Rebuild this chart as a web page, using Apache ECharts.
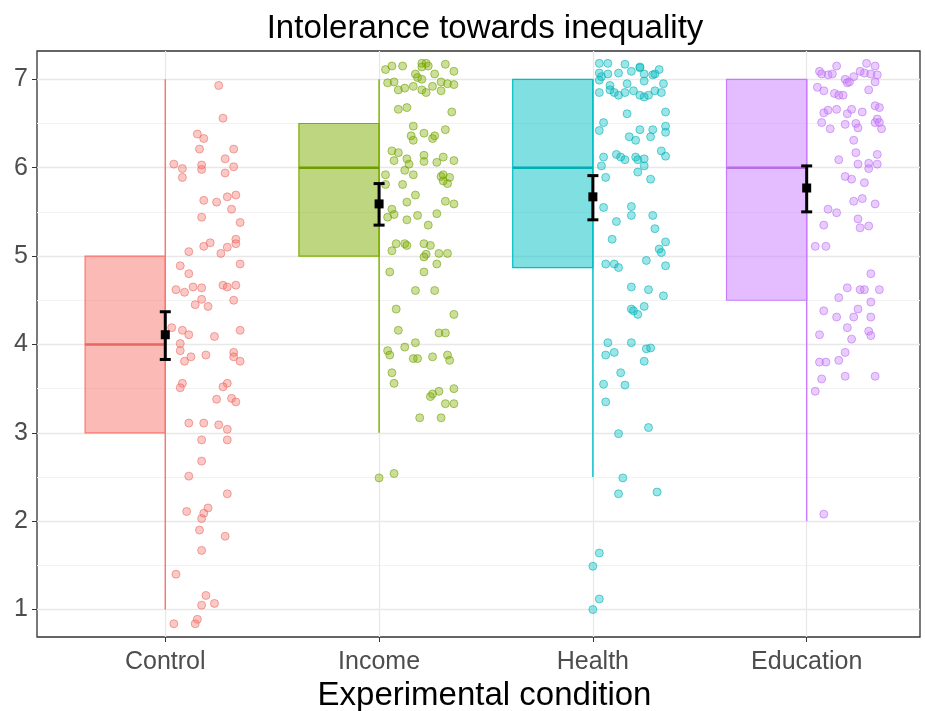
<!DOCTYPE html>
<html>
<head>
<meta charset="utf-8">
<title>Intolerance towards inequality</title>
<script src="https://cdn.jsdelivr.net/npm/echarts@6/dist/echarts.min.js"></script>
<style>
    html, body { margin: 0; padding: 0; background: #fff; }
    #chart { width: 925px; height: 711px; }
</style>
</head>
<body>
<div id="chart"></div>
<script>
// groups and summary stats
const categories = ["Control", "Income", "Health", "Education"];
const whiskerMin = [1, 3, 2.5, 2];
const q1 = [3, 5, 4.87, 4.5];
const median = [4, 6, 6, 6];
const q3 = [5, 6.5, 7, 7];
const whiskerMax = [7, 7, 7, 7];
const means = [4.11, 5.59, 5.67, 5.77];
const ciLow = [3.83, 5.35, 5.41, 5.50];
const ciHigh = [4.37, 5.82, 5.91, 6.02];

const yTicks = [1, 2, 3, 4, 5, 6, 7];
const yMinor = [1.5, 2.5, 3.5, 4.5, 5.5, 6.5];

// jittered raw responses: [offset from group centre, value]
const controlPts = [
    [0.25,6.93],[0.27,6.56],[0.15,6.38],[0.18,6.33],[0.16,6.21],[0.32,6.21],[0.04,6.04],[0.08,5.99],[0.17,6.03],[0.17,5.98],
    [0.28,6.10],[0.32,6.01],[0.28,5.94],[0.08,5.89],[0.18,5.63],[0.24,5.61],[0.29,5.67],[0.33,5.69],[0.31,5.53],[0.17,5.44],
    [0.35,5.38],[0.11,5.05],[0.18,5.11],[0.21,5.15],[0.26,5.03],[0.29,5.10],[0.33,5.19],[0.33,5.14],[0.07,4.89],[0.35,4.91],
    [0.11,4.80],[0.05,4.62],[0.09,4.59],[0.13,4.65],[0.17,4.64],[0.27,4.67],[0.29,4.65],[0.33,4.67],[0.17,4.51],[0.14,4.45],
    [0.20,4.43],[0.32,4.50],[0.03,4.19],[0.08,4.16],[0.11,4.11],[0.23,4.09],[0.35,4.16],[0.07,4.01],[0.07,3.93],[0.09,3.81],
    [0.12,3.86],[0.19,3.88],[0.32,3.91],[0.32,3.86],[0.35,3.81],[0.08,3.56],[0.07,3.51],[0.29,3.56],[0.27,3.52],[0.24,3.38],
    [0.31,3.39],[0.33,3.35],[0.11,3.11],[0.18,3.11],[0.25,3.09],[0.29,3.04],[0.17,2.92],[0.29,2.92],[0.17,2.68],[0.11,2.51],
    [0.29,2.31],[0.10,2.11],[0.20,2.15],[0.18,2.09],[0.17,2.03],[0.16,1.90],[0.28,1.83],[0.17,1.67],[0.05,1.40],[0.19,1.16],
    [0.17,1.05],[0.23,1.07],[0.04,0.84],[0.14,0.84],[0.15,0.89]
];
const incomePts = [
    [0.03,7.11],[0.06,7.15],[0.11,7.15],[0.20,7.18],[0.22,7.18],[0.23,7.15],[0.20,7.14],[0.26,7.06],[0.31,7.17],[0.35,7.09],
    [0.17,7.06],[0.18,7.02],[0.20,7.00],[0.04,6.96],[0.07,6.97],[0.09,6.88],[0.12,6.90],[0.16,6.92],[0.20,6.88],[0.22,6.85],
    [0.25,6.92],[0.29,6.87],[0.29,6.97],[0.32,6.95],[0.35,6.94],[0.09,6.66],[0.13,6.68],[0.34,6.63],[0.16,6.47],[0.31,6.43],
    [0.15,6.36],[0.16,6.31],[0.21,6.39],[0.25,6.33],[0.26,6.36],[0.06,6.19],[0.09,6.17],[0.07,6.08],[0.13,6.10],[0.14,6.04],
    [0.12,5.97],[0.16,5.92],[0.21,6.14],[0.21,6.07],[0.27,6.06],[0.30,6.12],[0.35,6.08],[0.29,5.90],[0.30,5.92],[0.33,5.89],
    [0.32,5.82],[0.30,5.85],[0.03,5.92],[0.03,5.81],[0.11,5.81],[0.17,5.69],[0.13,5.61],[0.31,5.62],[0.35,5.59],[0.04,5.44],
    [0.06,5.53],[0.07,5.47],[0.13,5.41],[0.18,5.46],[0.23,5.35],[0.27,5.48],[0.08,5.14],[0.06,5.06],[0.12,5.14],[0.13,5.12],
    [0.21,5.14],[0.24,5.12],[0.22,5.02],[0.21,4.99],[0.28,5.03],[0.32,5.03],[0.27,4.91],[0.05,4.82],[0.21,4.82],[0.17,4.61],
    [0.26,4.61],[0.08,4.40],[0.35,4.34],[0.09,4.16],[0.28,4.13],[0.31,4.13],[0.17,4.02],[0.12,3.97],[0.04,3.93],[0.05,3.88],
    [0.16,3.84],[0.18,3.84],[0.25,3.86],[0.32,3.88],[0.33,3.82],[0.06,3.68],[0.07,3.56],[0.35,3.50],[0.28,3.47],[0.25,3.44],
    [0.24,3.41],[0.31,3.33],[0.35,3.33],[0.19,3.17],[0.29,3.17],[0.00,2.49],[0.07,2.54]
];
const healthPts = [
    [0.03,7.18],[0.07,7.18],[0.15,7.17],[0.22,7.13],[0.22,7.14],[0.31,7.11],[0.03,7.07],[0.04,7.03],[0.07,7.06],[0.12,7.07],
    [0.18,7.09],[0.24,7.06],[0.28,7.05],[0.29,7.06],[0.03,6.99],[0.08,6.93],[0.16,6.95],[0.24,6.98],[0.33,6.95],[0.03,6.85],
    [0.08,6.88],[0.10,6.85],[0.12,6.82],[0.15,6.85],[0.19,6.87],[0.22,6.82],[0.24,6.80],[0.26,6.82],[0.29,6.87],[0.32,6.85],
    [0.16,6.61],[0.34,6.63],[0.05,6.51],[0.03,6.42],[0.22,6.43],[0.28,6.43],[0.27,6.35],[0.34,6.47],[0.34,6.40],[0.17,6.35],
    [0.20,6.31],[0.05,6.12],[0.11,6.15],[0.13,6.12],[0.15,6.09],[0.20,6.12],[0.21,6.09],[0.24,6.10],[0.32,6.19],[0.34,6.13],
    [0.04,6.02],[0.24,6.02],[0.21,5.95],[0.06,5.89],[0.27,5.87],[0.05,5.55],[0.18,5.56],[0.18,5.46],[0.28,5.46],[0.11,5.39],
    [0.29,5.31],[0.09,5.19],[0.34,5.16],[0.31,5.08],[0.32,5.04],[0.06,4.91],[0.10,4.91],[0.12,4.87],[0.25,4.95],[0.34,4.89],
    [0.18,4.65],[0.26,4.62],[0.33,4.55],[0.18,4.40],[0.19,4.38],[0.21,4.34],[0.24,4.43],[0.07,4.02],[0.18,4.02],[0.25,3.95],
    [0.27,3.96],[0.06,3.88],[0.10,3.91],[0.24,3.81],[0.13,3.68],[0.05,3.55],[0.15,3.54],[0.06,3.35],[0.26,3.06],[0.12,2.99],
    [0.14,2.49],[0.12,2.31],[0.30,2.33],[0.03,1.64],[0.00,1.49],[0.03,1.12],[0.00,1.00]
];
const educationPts = [
    [0.06,7.09],[0.07,7.06],[0.10,7.05],[0.12,7.06],[0.14,7.15],[0.18,7.00],[0.19,6.96],[0.20,6.97],[0.22,7.03],[0.28,7.18],
    [0.32,7.15],[0.25,7.09],[0.27,7.07],[0.30,7.06],[0.33,7.05],[0.32,6.97],[0.05,6.91],[0.08,6.87],[0.13,6.84],[0.15,6.82],
    [0.17,6.82],[0.29,6.88],[0.10,6.65],[0.14,6.66],[0.19,6.61],[0.21,6.66],[0.26,6.63],[0.32,6.70],[0.34,6.68],[0.08,6.62],
    [0.07,6.51],[0.11,6.44],[0.18,6.49],[0.23,6.50],[0.24,6.45],[0.32,6.51],[0.33,6.55],[0.34,6.51],[0.35,6.44],[0.22,6.31],
    [0.23,6.17],[0.33,6.15],[0.15,6.09],[0.24,6.04],[0.29,6.05],[0.33,6.04],[0.29,5.99],[0.18,5.90],[0.21,5.87],[0.27,5.83],
    [0.22,5.62],[0.26,5.65],[0.32,5.59],[0.10,5.53],[0.14,5.49],[0.08,5.35],[0.24,5.42],[0.25,5.32],[0.29,5.34],[0.04,5.11],
    [0.09,5.11],[0.30,4.80],[0.19,4.64],[0.25,4.62],[0.27,4.62],[0.34,4.62],[0.15,4.53],[0.30,4.48],[0.08,4.38],[0.14,4.31],
    [0.22,4.31],[0.24,4.40],[0.30,4.31],[0.06,4.11],[0.19,4.19],[0.21,4.06],[0.29,4.15],[0.30,4.10],[0.18,3.91],[0.06,3.80],
    [0.09,3.80],[0.15,3.82],[0.07,3.61],[0.18,3.64],[0.32,3.64],[0.04,3.47],[0.08,2.08]
];
const groupPts = [controlPts, incomePts, healthPts, educationPts];

// ggplot default hues
const colors = ["#F8766D", "#7CAE00", "#00BFC4", "#C77CFF"];
const medianColors = ["#e5675f", "#6f9c00", "#00aeb3", "#b56de8"];
const BOX_W = 0.375;
const FONT = "Liberation Sans, Arial, sans-serif";

function hexToRgba(hex, a) {
    const n = parseInt(hex.slice(1), 16);
    return "rgba(" + (n >> 16) + "," + ((n >> 8) & 255) + "," + (n & 255) + "," + a + ")";
}

function renderBox(params, api) {
    const i = params.dataIndex;
    const x = api.value(0);
    const topLeft = api.coord([x - BOX_W, api.value(4)]);
    const botRight = api.coord([x, api.value(2)]);
    const wTop = api.coord([x, api.value(5)]);
    const wBot = api.coord([x, api.value(1)]);
    const medL = api.coord([x - BOX_W, api.value(3)]);
    const medR = api.coord([x, api.value(3)]);
    return {
        type: "group",
        children: [
            {
                type: "rect",
                shape: {x: topLeft[0], y: topLeft[1], width: botRight[0] - topLeft[0], height: botRight[1] - topLeft[1]},
                style: {fill: hexToRgba(colors[i], 0.5), stroke: colors[i], lineWidth: 1.2}
            },
            {
                type: "line",
                shape: {x1: wTop[0], y1: wTop[1], x2: wBot[0], y2: wBot[1]},
                style: {stroke: colors[i], lineWidth: 1.4}
            },
            {
                type: "line",
                shape: {x1: medL[0], y1: medL[1], x2: medR[0], y2: medR[1]},
                style: {stroke: medianColors[i], lineWidth: 2.5}
            }
        ]
    };
}

function renderMean(params, api) {
    const x = api.value(0);
    const pm = api.coord([x, api.value(1)]);
    const pl = api.coord([x, api.value(2)]);
    const ph = api.coord([x, api.value(3)]);
    const cap = 5.5;
    const black = {stroke: "#000", lineWidth: 3};
    return {
        type: "group",
        children: [
            {type: "line", shape: {x1: pl[0], y1: pl[1], x2: ph[0], y2: ph[1]}, style: black},
            {type: "line", shape: {x1: pl[0] - cap, y1: pl[1], x2: pl[0] + cap, y2: pl[1]}, style: black},
            {type: "line", shape: {x1: ph[0] - cap, y1: ph[1], x2: ph[0] + cap, y2: ph[1]}, style: black},
            {type: "rect", shape: {x: pm[0] - 4.5, y: pm[1] - 4.5, width: 9, height: 9}, style: {fill: "#000"}}
        ]
    };
}

const boxData = categories.map(function (c, i) {
    return [i + 1, whiskerMin[i], q1[i], median[i], q3[i], whiskerMax[i]];
});
const meanData = categories.map(function (c, i) {
    return [i + 1, means[i], ciLow[i], ciHigh[i]];
});

const gridLines = [];
yMinor.forEach(function (v) {
    gridLines.push({yAxis: v, lineStyle: {type: "solid", color: "#f2f2f2", width: 1}});
});
yTicks.forEach(function (v) {
    gridLines.push({yAxis: v, lineStyle: {type: "solid", color: "#e8e8e8", width: 1.3}});
});
categories.forEach(function (c, i) {
    gridLines.push({xAxis: i + 1, lineStyle: {type: "solid", color: "#e8e8e8", width: 1.3}});
});

const series = [
    {
        type: "scatter",
        data: [],
        silent: true,
        z: 0,
        markLine: {
            silent: true,
            z: 0,
            symbol: ["none", "none"],
            label: {show: false},
            animation: false,
            lineStyle: {type: "solid"},
            data: gridLines
        }
    },
    {
        type: "custom",
        renderItem: renderBox,
        data: boxData,
        z: 1,
        silent: true
    }
];

groupPts.forEach(function (pts, i) {
    series.push({
        type: "scatter",
        name: categories[i],
        data: pts.map(function (p) { return [i + 1 + p[0], p[1]]; }),
        symbol: "circle",
        symbolSize: 8,
        z: 2,
        itemStyle: {
            color: hexToRgba(colors[i], 0.5),
            borderColor: hexToRgba(medianColors[i], 0.7),
            borderWidth: 1
        }
    });
});

series.push({
    type: "custom",
    renderItem: renderMean,
    data: meanData,
    z: 3,
    silent: true
});

const chart = echarts.init(document.getElementById("chart"));
chart.setOption({
    animation: false,
    backgroundColor: "#ffffff",
    title: {
        text: "Intolerance towards inequality",
        left: 480,
        top: 7,
        textAlign: "center",
        textStyle: {fontFamily: FONT, fontSize: 33, fontWeight: "normal", color: "#000"}
    },
    grid: {
        left: 37,
        right: 5,
        top: 51,
        bottom: 74,
        outerBoundsMode: "none",
        containLabel: false,
        show: true,
        borderColor: "#333333",
        borderWidth: 1.3,
        backgroundColor: "transparent"
    },
    xAxis: {
        type: "value",
        min: 0.4,
        max: 4.53,
        name: "Experimental condition",
        nameLocation: "middle",
        nameGap: 36,
        nameTextStyle: {fontFamily: FONT, fontSize: 33, color: "#000", padding: [0, 0, 0, 12]},
        axisLine: {show: false},
        axisTick: {show: true, length: 5, customValues: [1, 2, 3, 4], lineStyle: {color: "#333"}},
        axisLabel: {
            customValues: [1, 2, 3, 4],
            margin: 13,
            fontFamily: FONT,
            fontSize: 25,
            color: "#4d4d4d",
            formatter: function (v) { return categories[Math.round(v) - 1]; }
        },
        splitLine: {show: false}
    },
    yAxis: {
        type: "value",
        min: 0.69,
        max: 7.32,
        axisLine: {show: false},
        axisTick: {show: true, length: 5, customValues: yTicks, lineStyle: {color: "#333"}},
        axisLabel: {
            customValues: yTicks,
            margin: 9,
            fontFamily: FONT,
            fontSize: 25,
            color: "#4d4d4d"
        },
        splitLine: {show: false}
    },
    series: series
});
</script>
</body>
</html>
